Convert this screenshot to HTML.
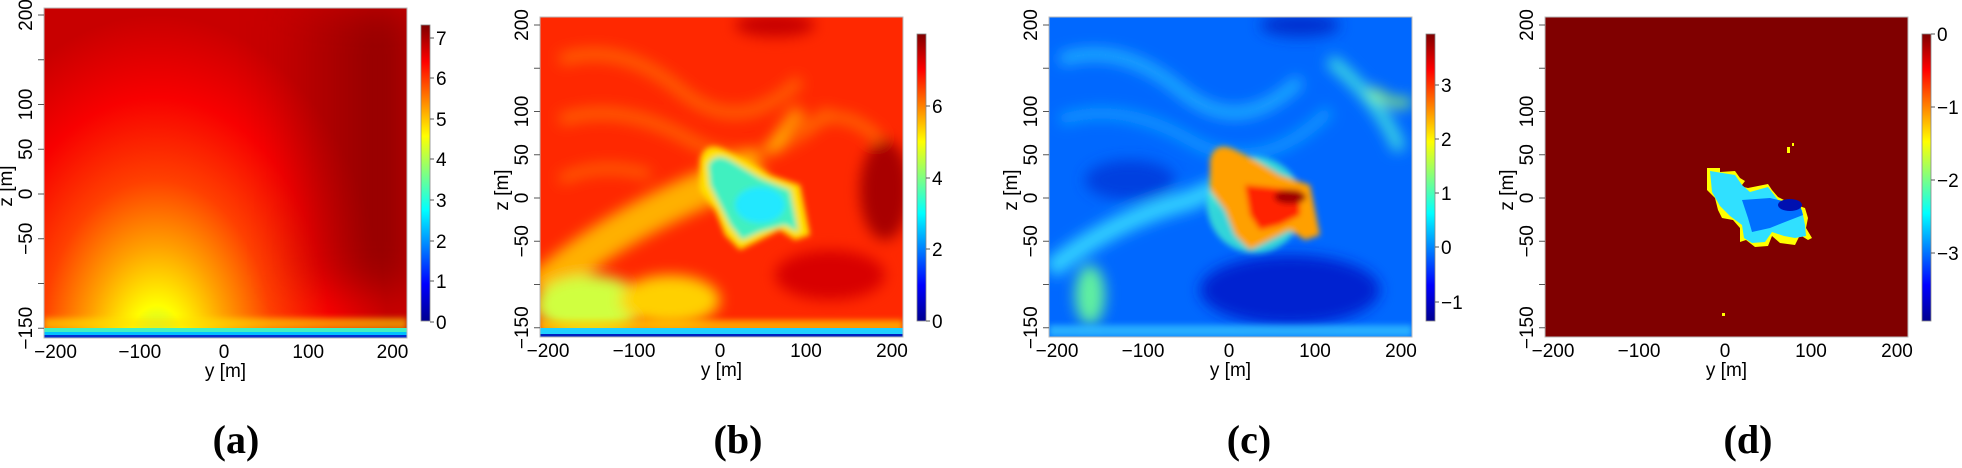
<!DOCTYPE html>
<html><head><meta charset="utf-8"><style>
html,body{margin:0;padding:0;background:#fff}
svg{display:block}
text{font-family:"Liberation Sans",sans-serif;font-size:19px;fill:#000}
.lab{font-family:"Liberation Serif",serif;font-weight:bold;font-size:40px}
</style></head><body>
<svg id="s" width="1962" height="468" viewBox="0 0 1962 468" xmlns="http://www.w3.org/2000/svg">
<defs>
<linearGradient id="jet" x1="0" y1="1" x2="0" y2="0">
<stop offset="0" stop-color="#00008f"/><stop offset="0.125" stop-color="#0000ff"/><stop offset="0.375" stop-color="#00ffff"/><stop offset="0.5" stop-color="#80ff80"/><stop offset="0.625" stop-color="#ffff00"/><stop offset="0.875" stop-color="#ff0000"/><stop offset="1" stop-color="#800000"/>
</linearGradient>
<filter id="b8" x="-50%" y="-50%" width="200%" height="200%"><feGaussianBlur stdDeviation="7"/></filter>
<filter id="b4" x="-50%" y="-50%" width="200%" height="200%"><feGaussianBlur stdDeviation="3"/></filter>
<filter id="b20" x="-50%" y="-50%" width="200%" height="200%"><feGaussianBlur stdDeviation="20"/></filter>
<clipPath id="ca"><rect x="44" y="8" width="363" height="330"/></clipPath>
<clipPath id="cb"><rect x="540" y="17" width="363" height="320"/></clipPath>
<clipPath id="cc"><rect x="1049" y="17" width="363" height="320"/></clipPath>
<clipPath id="cd"><rect x="1545" y="17" width="363" height="320"/></clipPath>
<radialGradient id="ga" cx="157" cy="345" r="330" gradientUnits="userSpaceOnUse" gradientTransform="translate(157 345) scale(0.7 1) translate(-157 -345)">
<stop offset="0" stop-color="#a0ff60"/><stop offset="0.12" stop-color="#ffff00"/><stop offset="0.3" stop-color="#ffa000"/><stop offset="0.5" stop-color="#ff4000"/><stop offset="0.75" stop-color="#f80000"/><stop offset="1" stop-color="#c80000"/>
</radialGradient>
<linearGradient id="gar" x1="0" y1="0" x2="1" y2="0"><stop offset="0" stop-color="#800000" stop-opacity="0"/><stop offset="1" stop-color="#800000" stop-opacity="0.9"/></linearGradient>
</defs>

<!-- Panel a -->
<g clip-path="url(#ca)">
<rect x="44" y="8" width="363" height="330" fill="url(#ga)"/>
<rect x="270" y="8" width="137" height="280" fill="url(#gar)" filter="url(#b20)"/>
<rect x="44" y="318" width="363" height="12" fill="#ffe000" filter="url(#b4)" opacity="0.6"/>
<rect x="44" y="328" width="363" height="5" fill="#40f0c0"/>
<rect x="44" y="332" width="363" height="3" fill="#00c0ff"/>
<rect x="44" y="335" width="363" height="3" fill="#0030d0"/>
</g>

<!-- Panel b -->
<g clip-path="url(#cb)">
<rect x="540" y="17" width="363" height="320" fill="#ff2800"/>
<g filter="url(#b8)">
<ellipse cx="775" cy="25" rx="40" ry="12" fill="#c80000"/>
<ellipse cx="885" cy="190" rx="25" ry="50" fill="#a80000"/>
<ellipse cx="830" cy="275" rx="55" ry="25" fill="#d80000"/>
<path d="M560 60 Q620 40 680 90 T800 80" stroke="#ff6000" stroke-width="12" fill="none"/>
<path d="M560 120 Q620 100 690 140 T830 110" stroke="#ff6000" stroke-width="12" fill="none"/>
<path d="M560 180 Q600 160 650 175" stroke="#ff6000" stroke-width="10" fill="none"/>
<path d="M800 130 Q840 100 880 140" stroke="#ff6a00" stroke-width="10" fill="none"/>
<path d="M540 290 Q600 235 690 195 L760 165" stroke="#ffb000" stroke-width="36" fill="none"/>
<ellipse cx="590" cy="305" rx="55" ry="30" fill="#d0ff40"/>
<ellipse cx="670" cy="300" rx="50" ry="25" fill="#ffd000"/>
<path d="M770 150 Q790 120 800 110" stroke="#ffd000" stroke-width="8" fill="none"/>
</g>
<g filter="url(#b4)">
<path d="M700 160 Q705 140 725 150 L745 160 L770 175 L800 185 L805 210 L810 235 L795 240 L780 230 L760 240 L740 250 L725 235 L715 210 L700 190 Z" fill="#ffe000"/>
<path d="M708 165 Q715 152 730 160 L760 178 L790 190 L795 215 L798 232 L785 225 L760 232 L742 240 L730 225 L720 205 L710 185 Z" fill="#40f0c0"/>
<ellipse cx="760" cy="205" rx="25" ry="18" fill="#20e8ff"/>
</g>
<rect x="540" y="320" width="363" height="12" fill="#ffd000" filter="url(#b4)" opacity="0.7"/>
<rect x="540" y="328" width="363" height="6" fill="#20d0ff"/>
<rect x="540" y="334" width="363" height="3" fill="#0020c0"/>
</g>

<!-- Panel c -->
<g clip-path="url(#cc)">
<rect x="1049" y="17" width="363" height="320" fill="#0068ff"/>
<g filter="url(#b8)">
<path d="M1060 60 Q1120 40 1180 90 T1300 80" stroke="#20b0ff" stroke-width="12" fill="none"/>
<path d="M1060 120 Q1120 100 1190 140 T1330 110" stroke="#1098ff" stroke-width="12" fill="none"/>
<path d="M1330 60 Q1380 100 1400 150" stroke="#40e0e0" stroke-width="12" fill="none"/>
<path d="M1370 90 Q1400 110 1410 100" stroke="#a0ff60" stroke-width="8" fill="none"/>
<path d="M1050 270 Q1110 220 1190 200 L1260 170" stroke="#30d0ff" stroke-width="20" fill="none"/>
<ellipse cx="1290" cy="290" rx="90" ry="35" fill="#0020d0"/>
<ellipse cx="1130" cy="180" rx="45" ry="20" fill="#0040e0"/>
<ellipse cx="1300" cy="25" rx="40" ry="12" fill="#0030d0"/>
<ellipse cx="1090" cy="295" rx="15" ry="30" fill="#60f0a0"/>
</g>
<g filter="url(#b4)">
<ellipse cx="1255" cy="205" rx="48" ry="48" fill="#40f0d0" opacity="0.8"/>
<path d="M1210 160 Q1215 140 1235 150 L1255 160 L1280 175 L1310 185 L1315 210 L1320 235 L1305 240 L1290 230 L1270 240 L1250 250 L1235 235 L1225 210 L1210 190 Z" fill="#ffa000"/>
<path d="M1245 185 L1300 190 L1300 215 L1280 225 L1260 230 L1250 215 Z" fill="#ff2000"/>
<ellipse cx="1290" cy="197" rx="16" ry="7" fill="#a00000"/>
</g>
<rect x="1049" y="325" width="363" height="12" fill="#30c0ff" filter="url(#b4)" opacity="0.8"/>
</g>

<!-- Panel d -->
<g clip-path="url(#cd)">
<rect x="1545" y="17" width="363" height="320" fill="#800000"/>
<path d="M1707 168 L1720 168 L1720 172 L1735 171 L1740 178 L1745 181 L1742 185 L1730 184 L1748 188 L1768 184 L1772 190 L1778 197 L1788 202 L1805 208 L1808 218 L1806 228 L1812 238 L1808 240 L1800 235 L1795 245 L1780 243 L1772 236 L1768 246 L1755 247 L1746 240 L1740 242 L1740 228 L1733 220 L1722 218 L1718 210 L1715 198 L1707 190 Z" fill="#ffff00"/>
<path d="M1710 171 L1735 175 L1742 185 L1750 192 L1768 187 L1778 200 L1802 210 L1805 225 L1806 236 L1795 238 L1784 236 L1772 232 L1765 242 L1752 243 L1744 238 L1742 225 L1730 216 L1720 206 L1712 192 Z" fill="#30e0ff"/>
<path d="M1742 200 L1770 198 L1800 205 L1803 215 L1785 222 L1770 228 L1752 232 L1748 218 Z" fill="#0070ff"/>
<ellipse cx="1790" cy="205" rx="12" ry="6" fill="#0010b0"/>
<rect x="1787" y="147" width="3" height="6" fill="#ffff00"/><rect x="1792" y="143" width="2" height="3" fill="#ffff00"/>
<rect x="1722" y="313" width="3" height="3" fill="#ffff00"/>
</g>

<g id="axes"></g>
<text class="lab" x="236" y="453" text-anchor="middle">(a)</text>
<text class="lab" x="738" y="453" text-anchor="middle">(b)</text>
<text class="lab" x="1249" y="453" text-anchor="middle">(c)</text>
<text class="lab" x="1748" y="453" text-anchor="middle">(d)</text>
</svg>
<script>
var NS="http://www.w3.org/2000/svg",g=document.getElementById("axes");
function el(t,a,txt){var e=document.createElementNS(NS,t);for(var k in a)e.setAttribute(k,a[k]);if(txt!==undefined)e.textContent=txt;g.appendChild(e);return e;}
var P=[
{L:44,T:8,R:407,B:338,x0:224,sx:0.8425,y0:194,sy:0.895,cbx:421,cbt:25,cbb:321,ct:[[0,322],[1,281],[2,241],[3,200],[4,159],[5,119],[6,78],[7,38]]},
{L:540,T:17,R:903,B:337,x0:720,sx:0.86,y0:198,sy:0.865,cbx:917,cbt:34,cbb:321,ct:[[0,321],[2,249],[4,178],[6,106]]},
{L:1049,T:17,R:1412,B:337,x0:1229,sx:0.86,y0:198,sy:0.865,cbx:1426,cbt:34,cbb:321,ct:[[-1,302],[0,247],[1,193],[2,139],[3,85]]},
{L:1545,T:17,R:1908,B:337,x0:1725,sx:0.86,y0:198,sy:0.865,cbx:1922,cbt:34,cbb:321,ct:[[-3,253],[-2,180],[-1,107],[0,34]]}];
P.forEach(function(p){
 el("rect",{x:p.L,y:p.T,width:p.R-p.L,height:p.B-p.T,fill:"none",stroke:"#bbb","stroke-width":1});
 for(var z=-150;z<=200;z+=50){var y=p.y0-z*p.sy;el("line",{x1:p.L-6,x2:p.L,y1:y,y2:y,stroke:"#555"});
  if(z!=150&&z!=-100){var lx=p.L-12;el("text",{x:lx,y:y,transform:"rotate(-90 "+lx+" "+y+")","text-anchor":"middle"},z<0?"\u2212"+(-z):""+z);}}
 for(var v=-200;v<=200;v+=100){var x=p.x0+v*p.sx;el("text",{x:x,y:p.B+20,"text-anchor":"middle"},v<0?"\u2212"+(-v):""+v);}
 el("text",{x:(p.L+p.R)/2,y:p.B+39,"text-anchor":"middle"},"y [m]");
 var zx=p.L-32,zy=p.y0-8;el("text",{x:zx,y:zy,transform:"rotate(-90 "+zx+" "+zy+")","text-anchor":"middle"},"z [m]");
 el("rect",{x:p.cbx,y:p.cbt,width:9,height:p.cbb-p.cbt,fill:"url(#jet)",stroke:"#888","stroke-width":0.8});
 p.ct.forEach(function(c){el("line",{x1:p.cbx+9,x2:p.cbx+13,y1:c[1],y2:c[1],stroke:"#555"});
  el("text",{x:p.cbx+15,y:c[1]+7},c[0]<0?"\u2212"+(-c[0]):""+c[0]);});
});
</script>
</body></html>
